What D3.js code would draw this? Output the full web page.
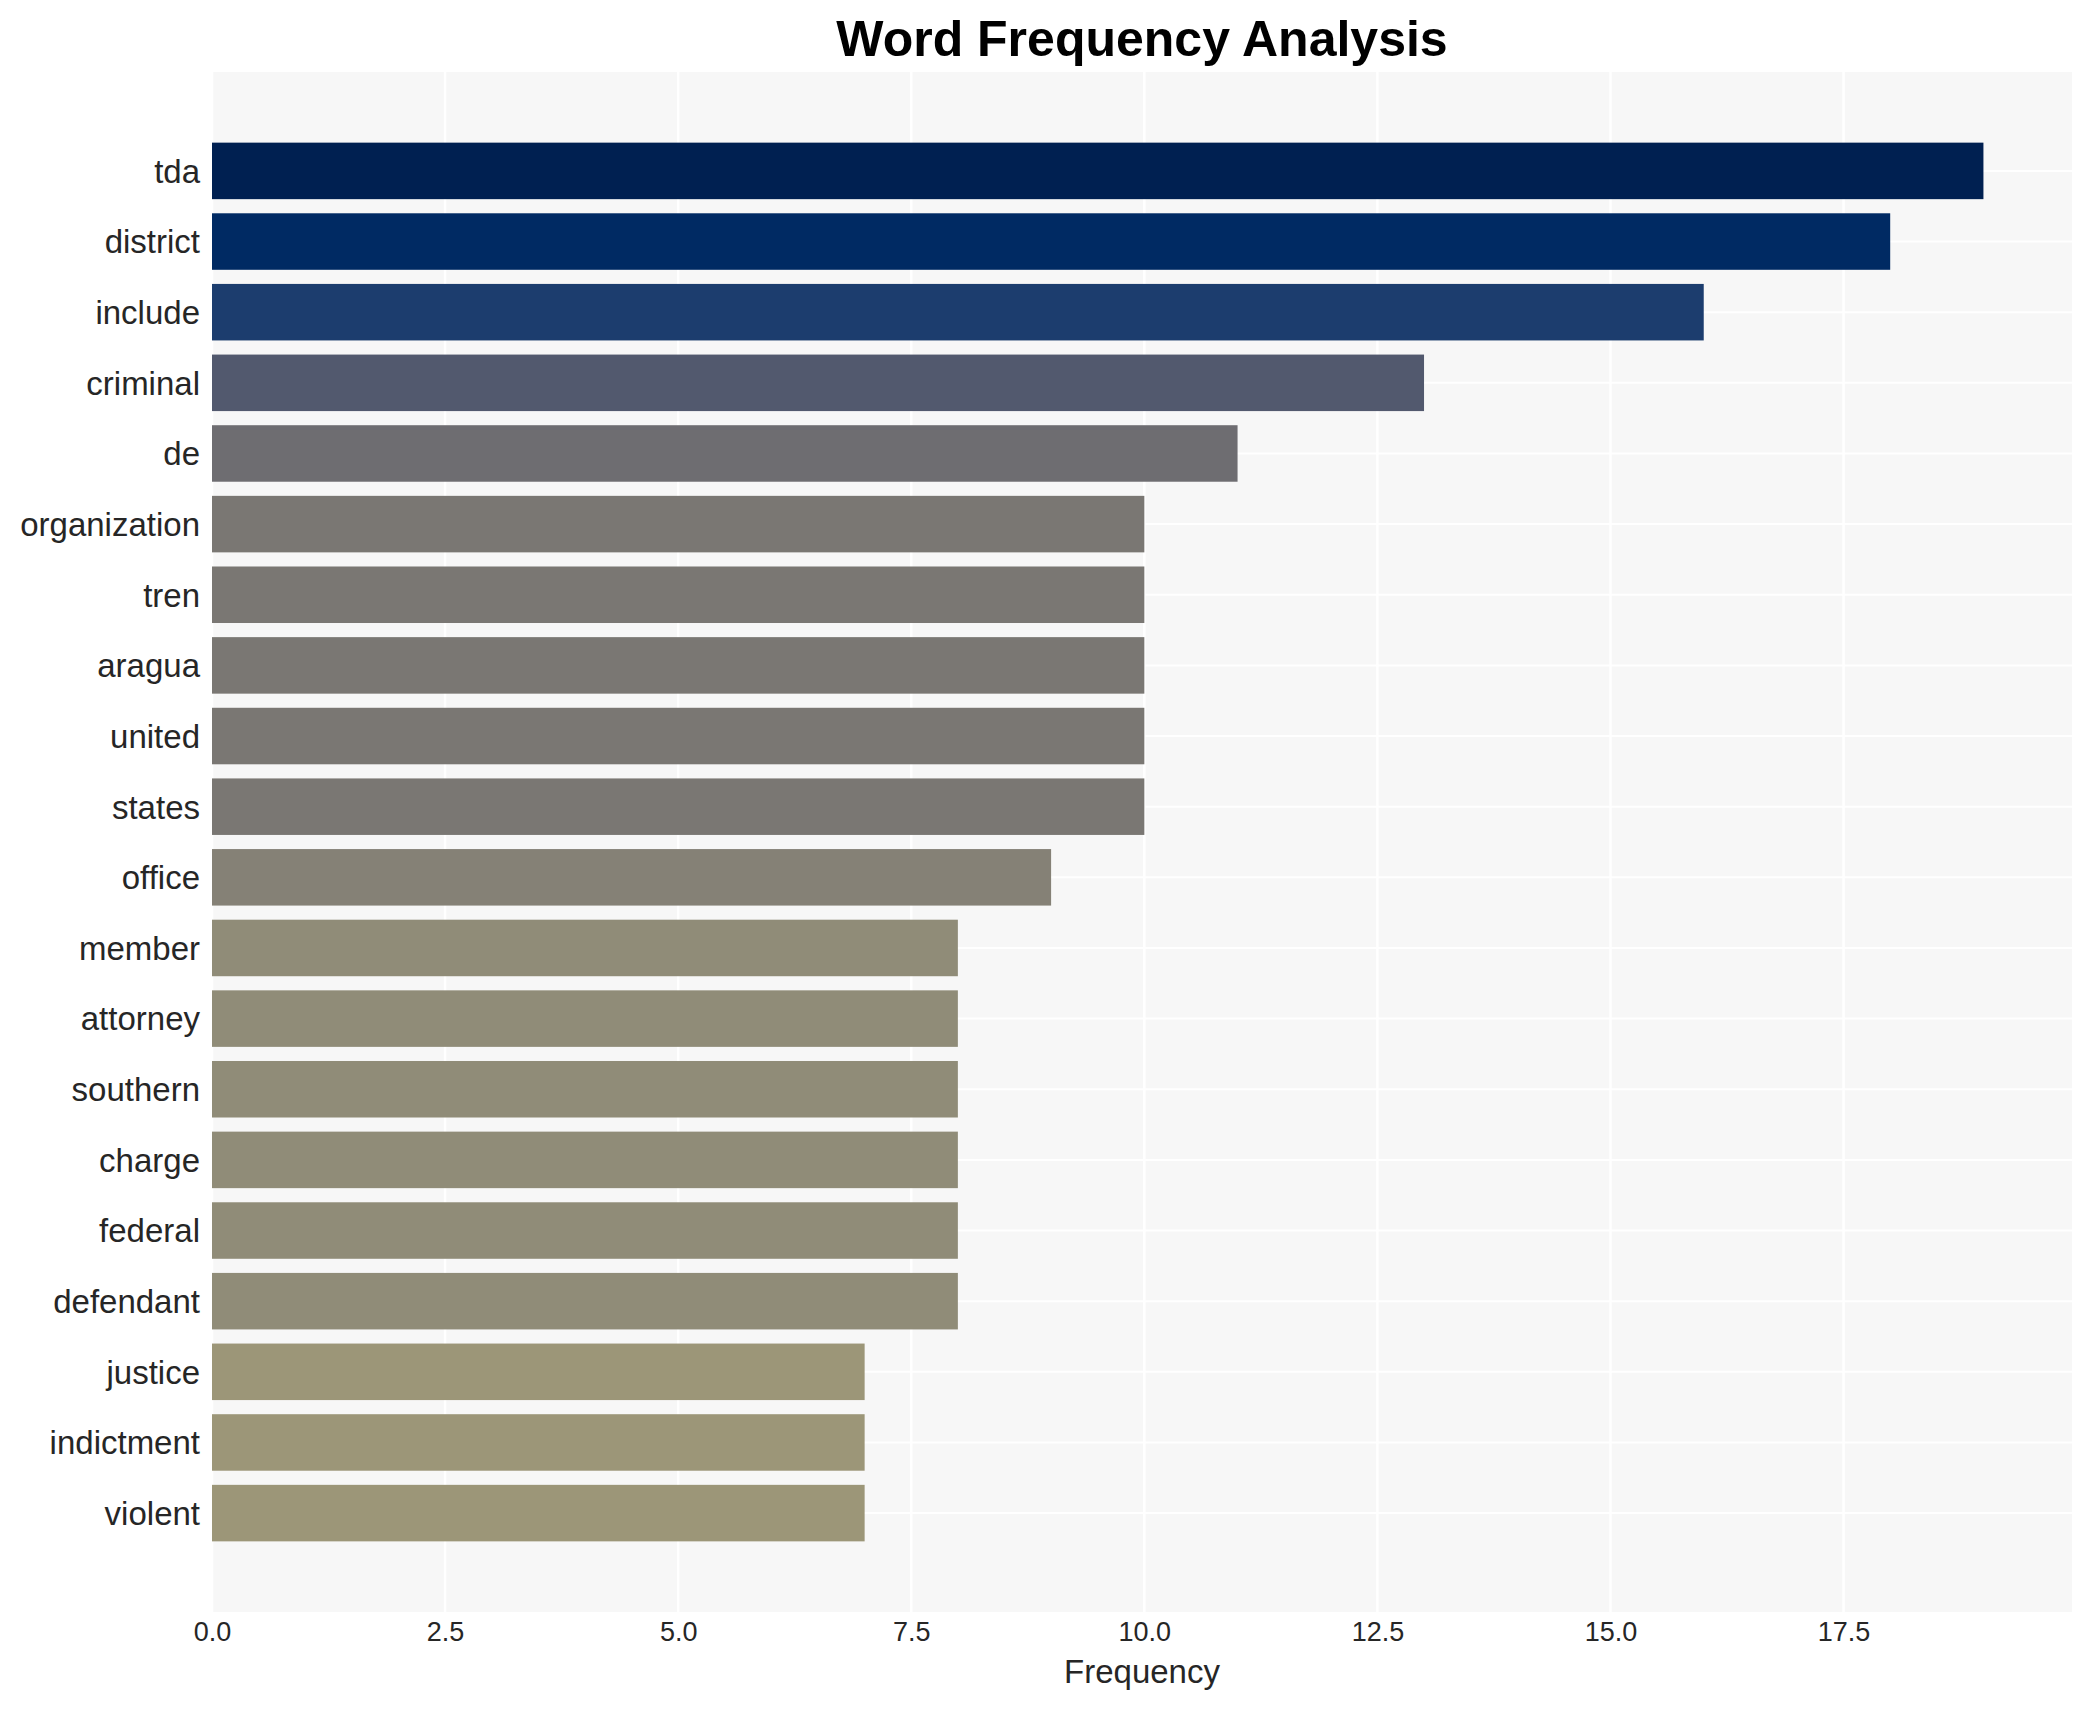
<!DOCTYPE html>
<html>
<head>
<meta charset="utf-8">
<script src="https://cdn.jsdelivr.net/npm/d3@7"></script>
<style>
  body { margin: 0; background: #fff; }
  text { font-family: "Liberation Sans", Arial, sans-serif; }
</style>
</head>
<body>
<svg id="chart" width="2091" height="1710"></svg>
<script>
'use strict';

var words = ['tda', 'district', 'include', 'criminal', 'de', 'organization', 'tren', 'aragua',
    'united', 'states', 'office', 'member', 'attorney', 'southern', 'charge', 'federal',
    'defendant', 'justice', 'indictment', 'violent']
var counts = [19, 18, 16, 13, 11, 10, 10, 10, 10, 10, 9, 8, 8, 8, 8, 8, 8, 7, 7, 7]
var xTicks = [0, 2.5, 5, 7.5, 10, 12.5, 15, 17.5]

var plotL = 212, plotR = 2072, plotT = 72, plotB = 1612

var svg = d3.select('#chart')

var x = d3.scaleLinear()
    .domain([0, d3.max(counts) * 1.05])
    .range([plotL, plotR])

var y = d3.scaleBand()
    .domain(words)
    .range([plotT, plotB])
    .paddingInner(0.2)
    .paddingOuter(1)

// reversed cividis, darker for the bigger counts
var color = d3.scaleSequential(function(t) { return d3.interpolateCividis(t * 0.635) })
    .domain([d3.max(counts), d3.min(counts)])

svg.append('rect')
    .attr('x', plotL)
    .attr('y', plotT)
    .attr('width', plotR - plotL)
    .attr('height', plotB - plotT)
    .style('fill', '#f7f7f7')

// grid
svg.append('g').selectAll('line.vgrid')
    .data(xTicks)
    .enter().append('line')
    .attr('class', 'vgrid')
    .attr('x1', function(d) { return x(d) })
    .attr('x2', function(d) { return x(d) })
    .attr('y1', plotT)
    .attr('y2', plotB)
    .style('stroke', '#fff')
    .style('stroke-width', 2.5)

svg.append('g').selectAll('line.hgrid')
    .data(words)
    .enter().append('line')
    .attr('class', 'hgrid')
    .attr('x1', plotL)
    .attr('x2', plotR)
    .attr('y1', function(d) { return y(d) + y.bandwidth() / 2 })
    .attr('y2', function(d) { return y(d) + y.bandwidth() / 2 })
    .style('stroke', '#fff')
    .style('stroke-width', 2)

// bars
svg.append('g').selectAll('rect.bar')
    .data(words)
    .enter().append('rect')
    .attr('class', 'bar')
    .attr('x', x(0))
    .attr('y', function(d) { return y(d) })
    .attr('width', function(d, i) { return x(counts[i]) - x(0) })
    .attr('height', y.bandwidth())
    .style('fill', function(d, i) { return color(counts[i]) })

// axes, no lines or ticks
var xAxis = svg.append('g')
    .attr('transform', 'translate(0,' + plotB + ')')
    .call(d3.axisBottom(x).tickValues(xTicks).tickFormat(d3.format('.1f')).tickSize(0).tickPadding(10))
xAxis.select('.domain').remove()
xAxis.selectAll('text')
    .style('font-size', '27px')
    .style('fill', '#262626')

var yAxis = svg.append('g')
    .attr('transform', 'translate(' + plotL + ',0)')
    .call(d3.axisLeft(y).tickSize(0).tickPadding(12))
yAxis.select('.domain').remove()
yAxis.selectAll('text')
    .attr('dy', '0.36em')
    .style('font-size', '33px')
    .style('fill', '#262626')

svg.append('text')
    .attr('x', (plotL + plotR) / 2)
    .attr('y', 1683)
    .attr('text-anchor', 'middle')
    .style('font-size', '33px')
    .style('fill', '#262626')
    .text('Frequency')

svg.append('text')
    .attr('x', (plotL + plotR) / 2)
    .attr('y', 56)
    .attr('text-anchor', 'middle')
    .style('font-size', '50px')
    .style('font-weight', 'bold')
    .style('fill', '#000')
    .text('Word Frequency Analysis')
</script>
</body>
</html>
